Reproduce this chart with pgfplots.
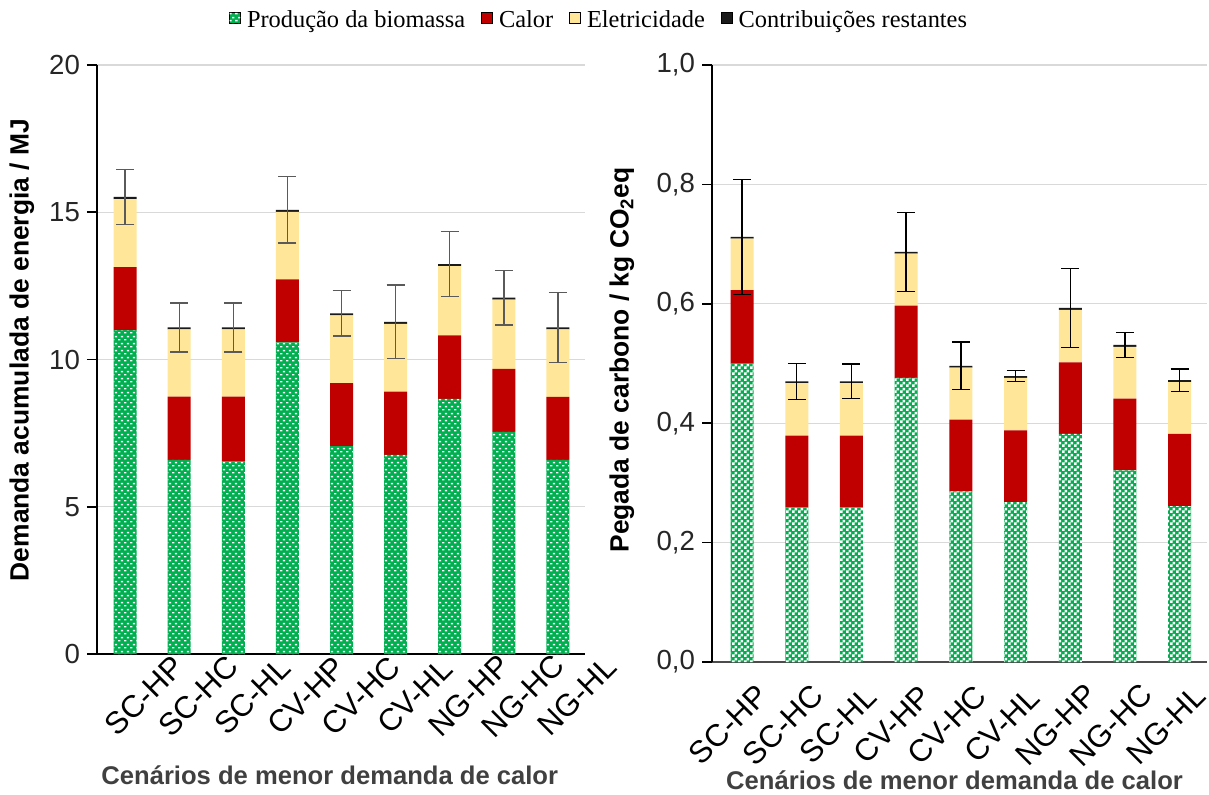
\documentclass[border=0pt]{standalone}
\usepackage{fontspec}
\setmainfont{Liberation Sans}
\newfontfamily\legfont{Liberation Serif}
\usepackage{pgfplots}
\usepackage{pgfplotstable}
\pgfplotsset{compat=1.18}
\usetikzlibrary{patterns}

\definecolor{cgreen}{HTML}{00B050}
\definecolor{cred}{HTML}{C00000}
\definecolor{cyellow}{HTML}{FFE699}
\definecolor{cblack}{HTML}{1A1A1A}
\definecolor{cgrid}{HTML}{D9D9D9}
\definecolor{cerr}{HTML}{5A5A5A}
\definecolor{clab}{HTML}{404040}

\pgfdeclarepatternformonly{dashdots}{\pgfqpoint{0pt}{0pt}}{\pgfqpoint{2.8pt}{3.3pt}}{\pgfqpoint{2.8pt}{3.3pt}}{%
 \pgfpathrectangle{\pgfqpoint{0.1pt}{0.3pt}}{\pgfqpoint{1.2pt}{0.75pt}}%
 \pgfpathrectangle{\pgfqpoint{1.5pt}{1.95pt}}{\pgfqpoint{1.2pt}{0.75pt}}%
 \pgfusepath{fill}}

\pgfdeclarepatternformonly{smallchecker}{\pgfqpoint{0pt}{0pt}}{\pgfqpoint{3pt}{3pt}}{\pgfqpoint{3pt}{3pt}}{%
 \pgfpathrectangle{\pgfqpoint{0pt}{0pt}}{\pgfqpoint{1.5pt}{1.5pt}}%
 \pgfpathrectangle{\pgfqpoint{1.5pt}{1.5pt}}{\pgfqpoint{1.5pt}{1.5pt}}%
 \pgfusepath{fill}}

\pgfplotstableread{
x g r y k t e
0 11.00 2.14 2.31 0.07 15.52 0.93
1 6.59 2.15 2.28 0.07 11.09 0.83
2 6.53 2.21 2.28 0.07 11.09 0.83
3 10.58 2.14 2.29 0.07 15.08 1.13
4 7.06 2.14 2.30 0.07 11.57 0.77
5 6.76 2.15 2.30 0.07 11.28 1.25
6 8.66 2.16 2.35 0.07 13.24 1.10
7 7.54 2.14 2.35 0.07 12.10 0.93
8 6.59 2.14 2.29 0.07 11.09 1.19
}\leftdata

\pgfplotstableread{
x g r y k t e
0 0.500 0.123 0.086 0.003 0.712 0.096
1 0.259 0.120 0.088 0.003 0.470 0.030
2 0.259 0.120 0.088 0.003 0.470 0.029
3 0.476 0.121 0.087 0.003 0.687 0.066
4 0.286 0.120 0.087 0.003 0.496 0.040
5 0.268 0.120 0.088 0.003 0.479 0.009
6 0.382 0.120 0.088 0.003 0.593 0.066
7 0.321 0.120 0.087 0.003 0.531 0.021
8 0.261 0.121 0.087 0.003 0.472 0.019
}\rightdata

\pgfplotsset{
  common/.style={
    scale only axis,
    ybar stacked,
    bar width=11.5pt,
    axis x line*=bottom,
    axis y line*=left,
    xtick={0,...,8},
    xticklabels={SC-HP,SC-HC,SC-HL,CV-HP,CV-HC,CV-HL,NG-HP,NG-HC,NG-HL},
    xtick style={draw=none},
    ytick style={black, line width=0.8pt},
    tick align=outside,
    major tick length=5pt,
    ymajorgrids,
    grid style={cgrid, line width=0.6pt},
    y axis line style={black, line width=1pt},
    xmax=8.5,
    ymin=0,
    yticklabel style={font=\fontsize{13.8}{16}\selectfont, text=black!85},
    xticklabel style={font=\fontsize{15.5}{17}\selectfont, rotate=45, anchor=center, inner sep=1pt, text=black},
    xlabel style={font=\bfseries\fontsize{12.8}{15}\selectfont, text=clab},
    ylabel style={font=\bfseries\fontsize{13.2}{15}\selectfont, text=black},
    every axis plot/.append style={draw=none},
    legend image code/.code={\draw[#1] (0pt,-1.8pt) rectangle (5.5pt,3.7pt);},
  },
  errax/.style={
    scale only axis, hide axis, xmax=8.5, ymin=0,
  },
}

\begin{document}
\begin{tikzpicture}
\useasboundingbox (0,0) rectangle (604.5pt,397pt);

% ---------------- left axis ----------------
\begin{axis}[common,
  at={(48.5pt,70pt)}, anchor=south west,
  width=244pt, height=294.5pt,
  xmin=-0.52, ymax=20,
  ytick={0,5,10,15,20},
  yticklabels={0,5,10,15,20},
  x axis line style={black, line width=0.8pt},
  xticklabel style={xshift=-4.5pt, yshift=-18pt},
  xlabel={Cenários de menor demanda de calor},
  ylabel={Demanda acumulada de energia / MJ},
  xlabel style={at={(axis description cs:0.477,-0.205)}, anchor=center},
  ylabel style={at={(axis description cs:-0.154,0.516)}, anchor=center, rotate=0},
  legend columns=4,
  legend style={draw=none, fill=none, at={(axis description cs:1.031,1.076)}, anchor=center,
    font=\legfont\fontsize{12.2}{14}\selectfont,
    /tikz/every even column/.append style={column sep=6pt},
    /tikz/every odd column/.append style={column sep=1pt}},
]
\addplot[fill=cgreen, postaction={pattern=dashdots, pattern color=white}] table[x=x,y=g] {\leftdata};
\addlegendentry{Produção da biomassa}
\addplot[fill=cred] table[x=x,y=r] {\leftdata};
\addlegendentry{Calor}
\addplot[fill=cyellow] table[x=x,y=y] {\leftdata};
\addlegendentry{Eletricidade}
\addplot[fill=cblack] table[x=x,y=k] {\leftdata};
\addlegendentry{Contribuições restantes}
\end{axis}
\begin{axis}[errax,
  at={(48.5pt,70pt)}, anchor=south west,
  width=244pt, height=294.5pt,
  xmin=-0.52, ymax=20]
\addplot[draw=none, mark=none, forget plot, error bars/.cd, y dir=both, y explicit,
  error bar style={cerr, line width=0.7pt},
  error mark options={rotate=90, mark size=4.5pt, cerr, line width=0.7pt}]
  table[x=x,y=t,y error=e] {\leftdata};
\end{axis}

% ---------------- right axis ----------------
\begin{axis}[common,
  at={(356pt,66pt)}, anchor=south west,
  width=247.5pt, height=298.5pt,
  xmin=-0.55, ymax=1,
  ytick={0,0.2,0.4,0.6,0.8,1.0},
  yticklabels={{0,0},{0,2},{0,4},{0,6},{0,8},{1,0}},
  x axis line style={black!70, line width=0.8pt},
  xticklabel style={xshift=-23.5pt, yshift=-13.8pt},
  xlabel={Cenários de menor demanda de calor},
  ylabel={Pegada de carbono / kg CO\textsubscript{2}eq},
  xlabel style={at={(axis description cs:0.49,-0.198)}, anchor=center},
  ylabel style={at={(axis description cs:-0.182,0.506)}, anchor=center, rotate=0},
]
\addplot[fill=cgreen, postaction={pattern=smallchecker, pattern color=white}] table[x=x,y=g] {\rightdata};
\addplot[fill=cred] table[x=x,y=r] {\rightdata};
\addplot[fill=cyellow] table[x=x,y=y] {\rightdata};
\addplot[fill=cblack] table[x=x,y=k] {\rightdata};
\end{axis}
\begin{axis}[errax,
  at={(356pt,66pt)}, anchor=south west,
  width=247.5pt, height=298.5pt,
  xmin=-0.55, ymax=1]
\addplot[draw=none, mark=none, forget plot, error bars/.cd, y dir=both, y explicit,
  error bar style={black, line width=0.7pt},
  error mark options={rotate=90, mark size=4.5pt, black, line width=0.7pt}]
  table[x=x,y=t,y error=e] {\rightdata};
\end{axis}
\end{tikzpicture}
\end{document}
